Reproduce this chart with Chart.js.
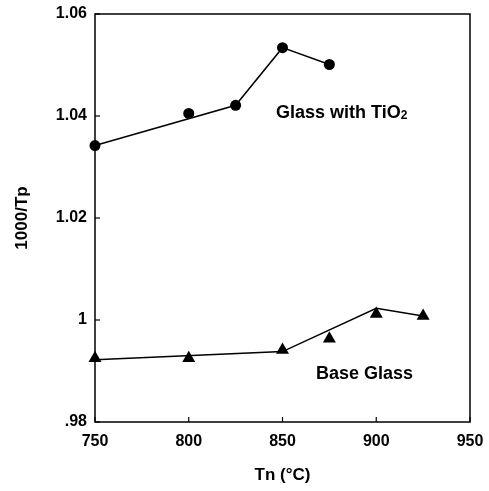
<!DOCTYPE html>
<html>
<head>
<meta charset="utf-8">
<script src="https://cdn.jsdelivr.net/npm/chart.js@4/dist/chart.umd.min.js"></script>
<style>
  html, body { margin: 0; padding: 0; background: #fff; }
  #wrap { width: 489px; height: 491px; }
</style>
</head>
<body>
<div id="wrap"><canvas id="tpChart" width="489" height="491"></canvas></div>
<script>
// measured points
const tio2Temps = [750, 800, 825, 850, 875];
const tio2Values = [1.0342, 1.0405, 1.0421, 1.0534, 1.0501];
const tio2LineTemps = [750, 825, 850, 875];
const tio2LineValues = [1.0342, 1.0421, 1.0534, 1.0501];

const baseTemps = [750, 800, 850, 875, 900, 925];
const baseValues = [0.9925, 0.9925, 0.9941, 0.9963, 1.0012, 1.0008];
const baseLineTemps = [750, 850, 900, 925];
const baseLineValues = [0.9922, 0.9938, 1.0023, 1.0008];

const xTicks = [750, 800, 850, 900, 950];
const yTicks = [0.98, 1.0, 1.02, 1.04, 1.06];
const yTickLabels = ['.98', '1', '1.02', '1.04', '1.06'];

const FONT = 'Liberation Sans, Arial, sans-serif';

const toPoints = (xs, ys) => xs.map((x, i) => ({ x, y: ys[i] }));

// frame, inward ticks and the two series labels
const framePlugin = {
    id: 'frame',
    afterDraw(chart) {
        const { ctx, chartArea: a, scales } = chart;
        ctx.save();
        ctx.strokeStyle = '#000';
        ctx.lineWidth = 1.5;
        ctx.strokeRect(a.left, a.top, a.right - a.left, a.bottom - a.top);

        ctx.lineWidth = 1.2;
        xTicks.forEach(v => {
            const px = scales.x.getPixelForValue(v);
            ctx.beginPath();
            ctx.moveTo(px, a.bottom);
            ctx.lineTo(px, a.bottom - 5);
            ctx.stroke();
        });
        yTicks.forEach(v => {
            const py = scales.y.getPixelForValue(v);
            ctx.beginPath();
            ctx.moveTo(a.left, py);
            ctx.lineTo(a.left + 5, py);
            ctx.stroke();
        });

        ctx.fillStyle = '#000';
        ctx.textBaseline = 'middle';
        ctx.textAlign = 'left';

        let px = scales.x.getPixelForValue(846.5);
        let py = scales.y.getPixelForValue(1.0406);
        ctx.font = 'bold 18px ' + FONT;
        ctx.fillText('Glass with TiO', px, py);
        const w = ctx.measureText('Glass with TiO').width;
        ctx.font = 'bold 12px ' + FONT;
        ctx.fillText('2', px + w, py + 3);

        px = scales.x.getPixelForValue(867.9);
        py = scales.y.getPixelForValue(0.9894);
        ctx.font = 'bold 18px ' + FONT;
        ctx.fillText('Base Glass', px, py);
        ctx.restore();
    }
};

new Chart(document.getElementById('tpChart').getContext('2d'), {
    type: 'scatter',
    data: {
        datasets: [
            {
                label: 'Glass with TiO2',
                data: toPoints(tio2Temps, tio2Values),
                pointStyle: 'circle',
                pointRadius: 5.5,
                backgroundColor: '#000',
                borderColor: '#000',
                borderWidth: 0
            },
            {
                label: 'Glass with TiO2 line',
                data: toPoints(tio2LineTemps, tio2LineValues),
                showLine: true,
                pointRadius: 0,
                borderColor: '#000',
                borderWidth: 1.5
            },
            {
                label: 'Base Glass',
                data: toPoints(baseTemps, baseValues),
                pointStyle: 'triangle',
                pointRadius: 7.5,
                backgroundColor: '#000',
                borderColor: '#000',
                borderWidth: 0
            },
            {
                label: 'Base Glass line',
                data: toPoints(baseLineTemps, baseLineValues),
                showLine: true,
                pointRadius: 0,
                borderColor: '#000',
                borderWidth: 1.5
            }
        ]
    },
    options: {
        responsive: false,
        animation: false,
        clip: false,
        layout: { padding: { left: 0, top: 14, right: 19, bottom: 0 } },
        plugins: {
            legend: { display: false },
            tooltip: { enabled: false }
        },
        scales: {
            x: {
                type: 'linear',
                min: 750,
                max: 950,
                afterFit: s => {
                    s.height = 69;
                    s.paddingLeft = 0;
                    s.paddingRight = 0;
                },
                afterBuildTicks: s => { s.ticks = xTicks.map(v => ({ value: v })); },
                grid: { display: false, drawTicks: false },
                border: { display: false },
                ticks: {
                    padding: 10,
                    color: '#000',
                    font: { family: FONT, size: 16, weight: 'bold' }
                },
                title: {
                    display: true,
                    text: 'Tn (°C)',
                    color: '#000',
                    padding: { top: 0, bottom: 5 },
                    font: { family: FONT, size: 17, weight: 'bold' }
                }
            },
            y: {
                type: 'linear',
                min: 0.98,
                max: 1.06,
                afterFit: s => {
                    s.width = 95;
                    s.paddingTop = 0;
                    s.paddingBottom = 0;
                },
                afterBuildTicks: s => { s.ticks = yTicks.map(v => ({ value: v })); },
                grid: { display: false, drawTicks: false },
                border: { display: false },
                ticks: {
                    padding: 8,
                    color: '#000',
                    font: { family: FONT, size: 16, weight: 'bold' },
                    callback: v => yTickLabels[yTicks.findIndex(t => Math.abs(t - v) < 1e-6)]
                },
                title: {
                    display: true,
                    text: '1000/Tp',
                    color: '#000',
                    padding: { top: 12, bottom: 0 },
                    font: { family: FONT, size: 17, weight: 'bold' }
                }
            }
        }
    },
    plugins: [framePlugin]
});
</script>
</body>
</html>
